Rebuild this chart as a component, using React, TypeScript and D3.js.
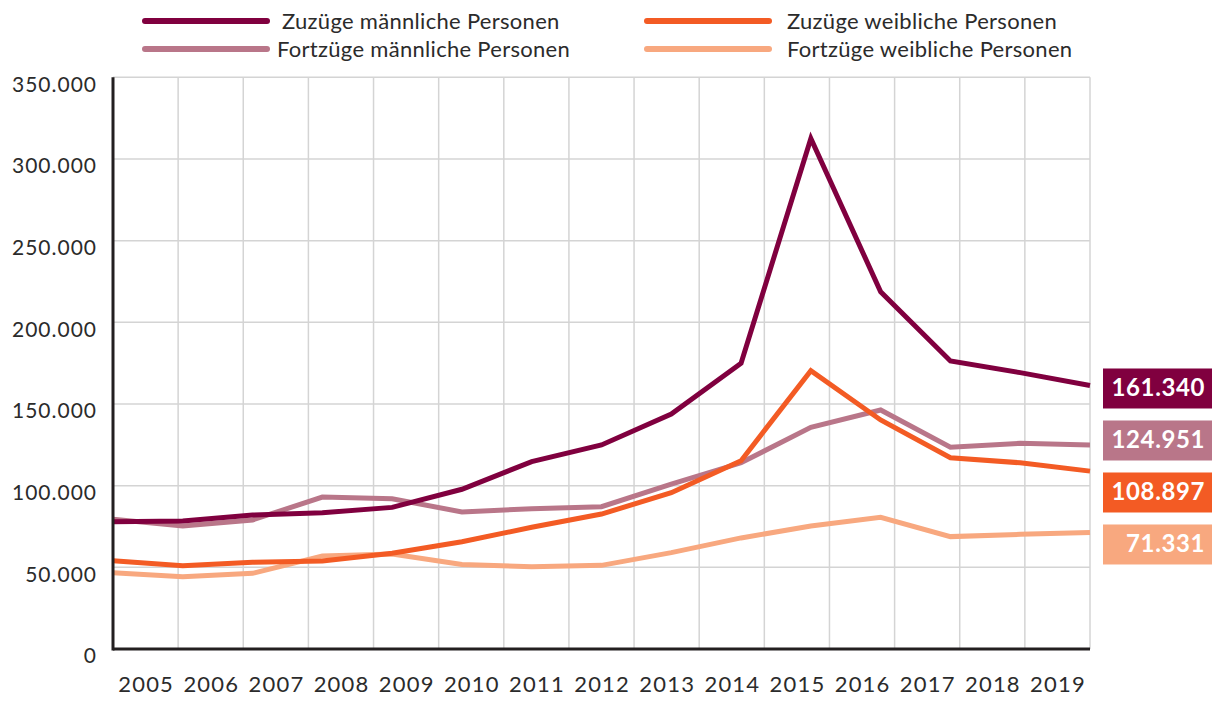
import React from 'react';
import * as d3 from 'd3';

const years = [2005, 2006, 2007, 2008, 2009, 2010, 2011, 2012, 2013, 2014, 2015, 2016, 2017, 2018, 2019];
const zuzuegeMaennlich = [77900, 78400, 82000, 83400, 86700, 97800, 114700, 124900, 143900, 174900, 312600, 218700, 176300, 169200, 161340];
const fortzuegeMaennlich = [79400, 75300, 79000, 93000, 92000, 83900, 85900, 87100, 101000, 114000, 135700, 146300, 123500, 125900, 124951];
const zuzuegeWeiblich = [54000, 51000, 53100, 53900, 58600, 65700, 74500, 82600, 95700, 115300, 170400, 140200, 117100, 114000, 108897];
const fortzuegeWeiblich = [46700, 44300, 46300, 56900, 58200, 51800, 50400, 51200, 59000, 68000, 75300, 80600, 68800, 70200, 71331];
const yTicks = [0, 50000, 100000, 150000, 200000, 250000, 300000, 350000];
const seriesNames = ['Zuzüge männliche Personen', 'Fortzüge männliche Personen', 'Zuzüge weibliche Personen', 'Fortzüge weibliche Personen'];
const seriesColors = ['#80003f', '#b97689', '#f35b24', '#f8a87f'];
const seriesValues = [zuzuegeMaennlich, fortzuegeMaennlich, zuzuegeWeiblich, fortzuegeWeiblich];

const locale = d3.formatLocale({ decimal: ',', thousands: '.', grouping: [3], currency: ['', '€'] });
const fmt = locale.format(',');

const FONT = 'Lato, "Open Sans", sans-serif';

function spreadLabels(ys: number[], gap: number): number[] {
  const order = ys.map((v, i) => ({ v, i })).sort((a, b) => a.v - b.v);
  let groups = order.map(o => ({ items: [o], center: o.v }));
  let changed = true;
  while (changed) {
    changed = false;
    for (let k = 0; k < groups.length - 1; k++) {
      const a = groups[k], b = groups[k + 1];
      const aEnd = a.center + (a.items.length - 1) * gap / 2;
      const bStart = b.center - (b.items.length - 1) * gap / 2;
      if (bStart - aEnd < gap) {
        const items = [...a.items, ...b.items];
        const center = d3.mean(items, d => d.v) as number;
        groups.splice(k, 2, { items, center });
        changed = true;
        break;
      }
    }
  }
  const out = new Array(ys.length);
  groups.forEach(g => {
    g.items.forEach((it, j) => {
      out[it.i] = g.center + (j - (g.items.length - 1) / 2) * gap;
    });
  });
  return out;
}

export default function App() {
  const W = 1212, H = 701;
  const left = 113, right = 1090, top = 77.3, bottom = 649;
  const xPoint = d3.scalePoint<number>().domain(years).range([left, right]);
  const xBand = d3.scaleBand<number>().domain(years).range([left, right]);
  const y = d3.scaleLinear().domain([0, 350000]).range([bottom, top]);
  const line = d3.line<number>().x((_, i) => xPoint(years[i]) as number).y(d => y(d));

  const lastYs = seriesValues.map(v => y(v[v.length - 1]));
  const labelYs = spreadLabels(lastYs, 52).map(v => v + 8);

  const vGrid = [...years.slice(1).map(yr => xBand(yr) as number), right];

  return (
    <div style={{ position: 'absolute', left: 0, top: 0 }}>
      <svg width={W} height={H} style={{ display: 'block', background: '#fff' }}>
        {/* grid */}
        {yTicks.filter(t => t > 0).map(t => (
          <line key={'h' + t} x1={left} x2={right} y1={y(t)} y2={y(t)} stroke="#d4d4d4" strokeWidth={1.5} />
        ))}
        {vGrid.map((gx, i) => (
          <line key={'v' + i} x1={gx} x2={gx} y1={top} y2={bottom} stroke="#d4d4d4" strokeWidth={1.5} />
        ))}
        {/* series */}
        {[1, 3, 2, 0].map(si => (
          <path key={si} d={line(seriesValues[si]) as string} fill="none" stroke={seriesColors[si]} strokeWidth={5} strokeLinejoin="miter" />
        ))}
        {/* axes */}
        <line x1={left} x2={left} y1={top} y2={bottom + 1.5} stroke="#231f20" strokeWidth={3} />
        <line x1={left} x2={right} y1={bottom} y2={bottom} stroke="#231f20" strokeWidth={3} />
        {/* y labels */}
        {yTicks.map(t => (
          <text key={'yl' + t} x={97} y={y(t) + 9} textAnchor="end" dominantBaseline="middle" fontFamily={FONT} fontSize={21} letterSpacing={1} fill="#2b2b2b">{fmt(t)}</text>
        ))}
        {/* x labels */}
        {years.map(yr => (
          <text key={'xl' + yr} x={(xBand(yr) as number) + xBand.bandwidth() / 2 + 0.6} y={686} textAnchor="middle" dominantBaseline="middle" fontFamily={FONT} fontSize={22} letterSpacing={1.2} fill="#2b2b2b">{yr}</text>
        ))}
        {/* end labels */}
        {seriesValues.map((v, si) => (
          <g key={'el' + si}>
            <rect x={1103} y={labelYs[si] - 20} width={120} height={40} fill={seriesColors[si]} />
            <text x={1205} y={labelYs[si] + 1} textAnchor="end" dominantBaseline="middle" fontFamily={FONT} fontWeight={700} fontSize={24} letterSpacing={0.6} fill="#fff">{fmt(v[v.length - 1])}</text>
          </g>
        ))}
        {/* legend */}
        {seriesNames.map((name, si) => {
          const col = si % 2 === 0 ? 0 : 1;
          const isW = si >= 2;
          const lx = isW ? 647 : 145;
          const ly = col === 0 ? 21 : 49;
          const tx = isW ? 787 : (col === 0 ? 282 : 277);
          return (
            <g key={'lg' + si}>
              <line x1={lx} x2={lx + 122} y1={ly} y2={ly} stroke={seriesColors[si]} strokeWidth={6} strokeLinecap="round" />
              <text x={tx} y={ly + 2} dominantBaseline="middle" fontFamily={FONT} fontSize={22} letterSpacing={0.3} fill="#2b2b2b">{name}</text>
            </g>
          );
        })}
      </svg>
    </div>
  );
}
